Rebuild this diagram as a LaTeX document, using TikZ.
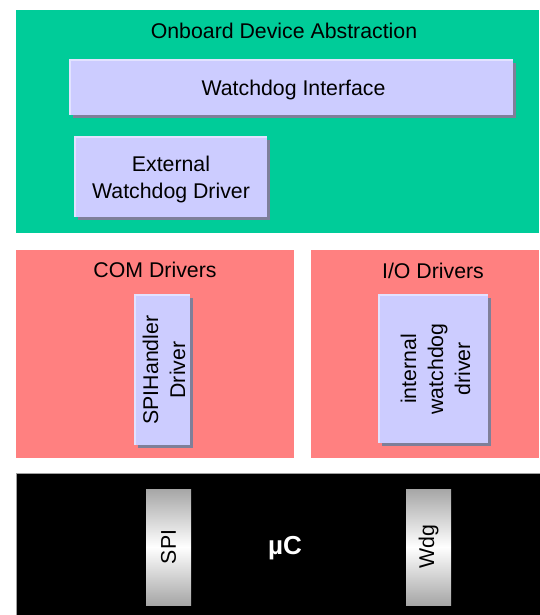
\documentclass[tikz,border=0pt]{standalone}
\usepackage{fontspec}
\setmainfont{Liberation Sans}
\definecolor{odagreen}{HTML}{00CC99}
\definecolor{drvred}{HTML}{FF8080}
\definecolor{lav}{HTML}{CCCCFF}
\definecolor{lavshadow}{HTML}{7F7F99}
\definecolor{lavlight}{HTML}{E2E2FF}
\definecolor{chipgray}{HTML}{A6A6A6}
\definecolor{mcuborder}{HTML}{A0A0A0}
\begin{document}
\begin{tikzpicture}[x=1pt,y=-1pt,
  every node/.style={font=\fontsize{21.3}{27}\selectfont, inner sep=0pt, outer sep=0pt},
  region/.style={anchor=north west, draw=none},
  lavbox/.style={anchor=north west, fill=lav,
    preaction={fill=lavshadow, transform canvas={xshift=3pt,yshift=-3pt}}},
  hl/.style={draw=lavlight, line width=2pt},
  chip/.style={anchor=north west, top color=chipgray, bottom color=chipgray, middle color=white},
  txt/.style={align=center, text=black}
]
\useasboundingbox (0,0) rectangle (539,615);

% Onboard Device Abstraction
\node[region, fill=odagreen, minimum width=523pt, minimum height=223pt] (oda) at (16,10) {};
\node[txt] (odat) at (284,31) {Onboard Device Abstraction};

\node[lavbox, minimum width=443pt, minimum height=55pt] (wi) at (70,60) {};
\draw[hl] (wi.south west) -- (wi.north west) -- (wi.north east);
\node[txt] (wit) at ([xshift=2pt,yshift=-2pt]wi.center) {Watchdog Interface};

\node[lavbox, minimum width=192pt, minimum height=80pt] (ewd) at (75,137) {};
\draw[hl] (ewd.south west) -- (ewd.north west) -- (ewd.north east);
\node[txt] (ewdt) at ([yshift=-2pt]ewd.center) {External\\Watchdog Driver};

% COM Drivers
\node[region, fill=drvred, minimum width=278pt, minimum height=208pt] (com) at (16,250) {};
\node[txt] (comt) at (155,270) {COM Drivers};
\node[lavbox, minimum width=55pt, minimum height=150pt] (spih) at (135,295) {};
\draw[hl] (spih.south west) -- (spih.north west) -- (spih.north east);
\node[txt, rotate=90] (spiht) at ([xshift=1.5pt]spih.center) {SPIHandler\\Driver};

% I/O Drivers
\node[region, fill=drvred, minimum width=228pt, minimum height=208pt] (io) at (311,250) {};
\node[txt] (iot) at (433,271) {I/O Drivers};
\node[lavbox, minimum width=109pt, minimum height=148pt] (iwd) at (379,295) {};
\draw[hl] (iwd.south west) -- (iwd.north west) -- (iwd.north east);
\node[txt, rotate=90] (iwdt) at ([xshift=2pt]iwd.center) {internal\\watchdog\\driver};

% Microcontroller
\node[region, fill=black, draw=mcuborder, line width=1pt, minimum width=524pt, minimum height=145pt] (mcu) at (16,473) {};
\node[txt, text=white, font=\fontsize{26}{30}\selectfont\bfseries] (mcut) at (285,548) {µC};
\node[chip, minimum width=45pt, minimum height=116pt] (spi) at (146,489) {};
\node[txt, rotate=90] (spit) at (spi.center) {SPI};
\node[chip, minimum width=45pt, minimum height=116pt] (wdg) at (406,489) {};
\node[txt, rotate=90] (wdgt) at (wdg.center) {Wdg};
\end{tikzpicture}
\end{document}
